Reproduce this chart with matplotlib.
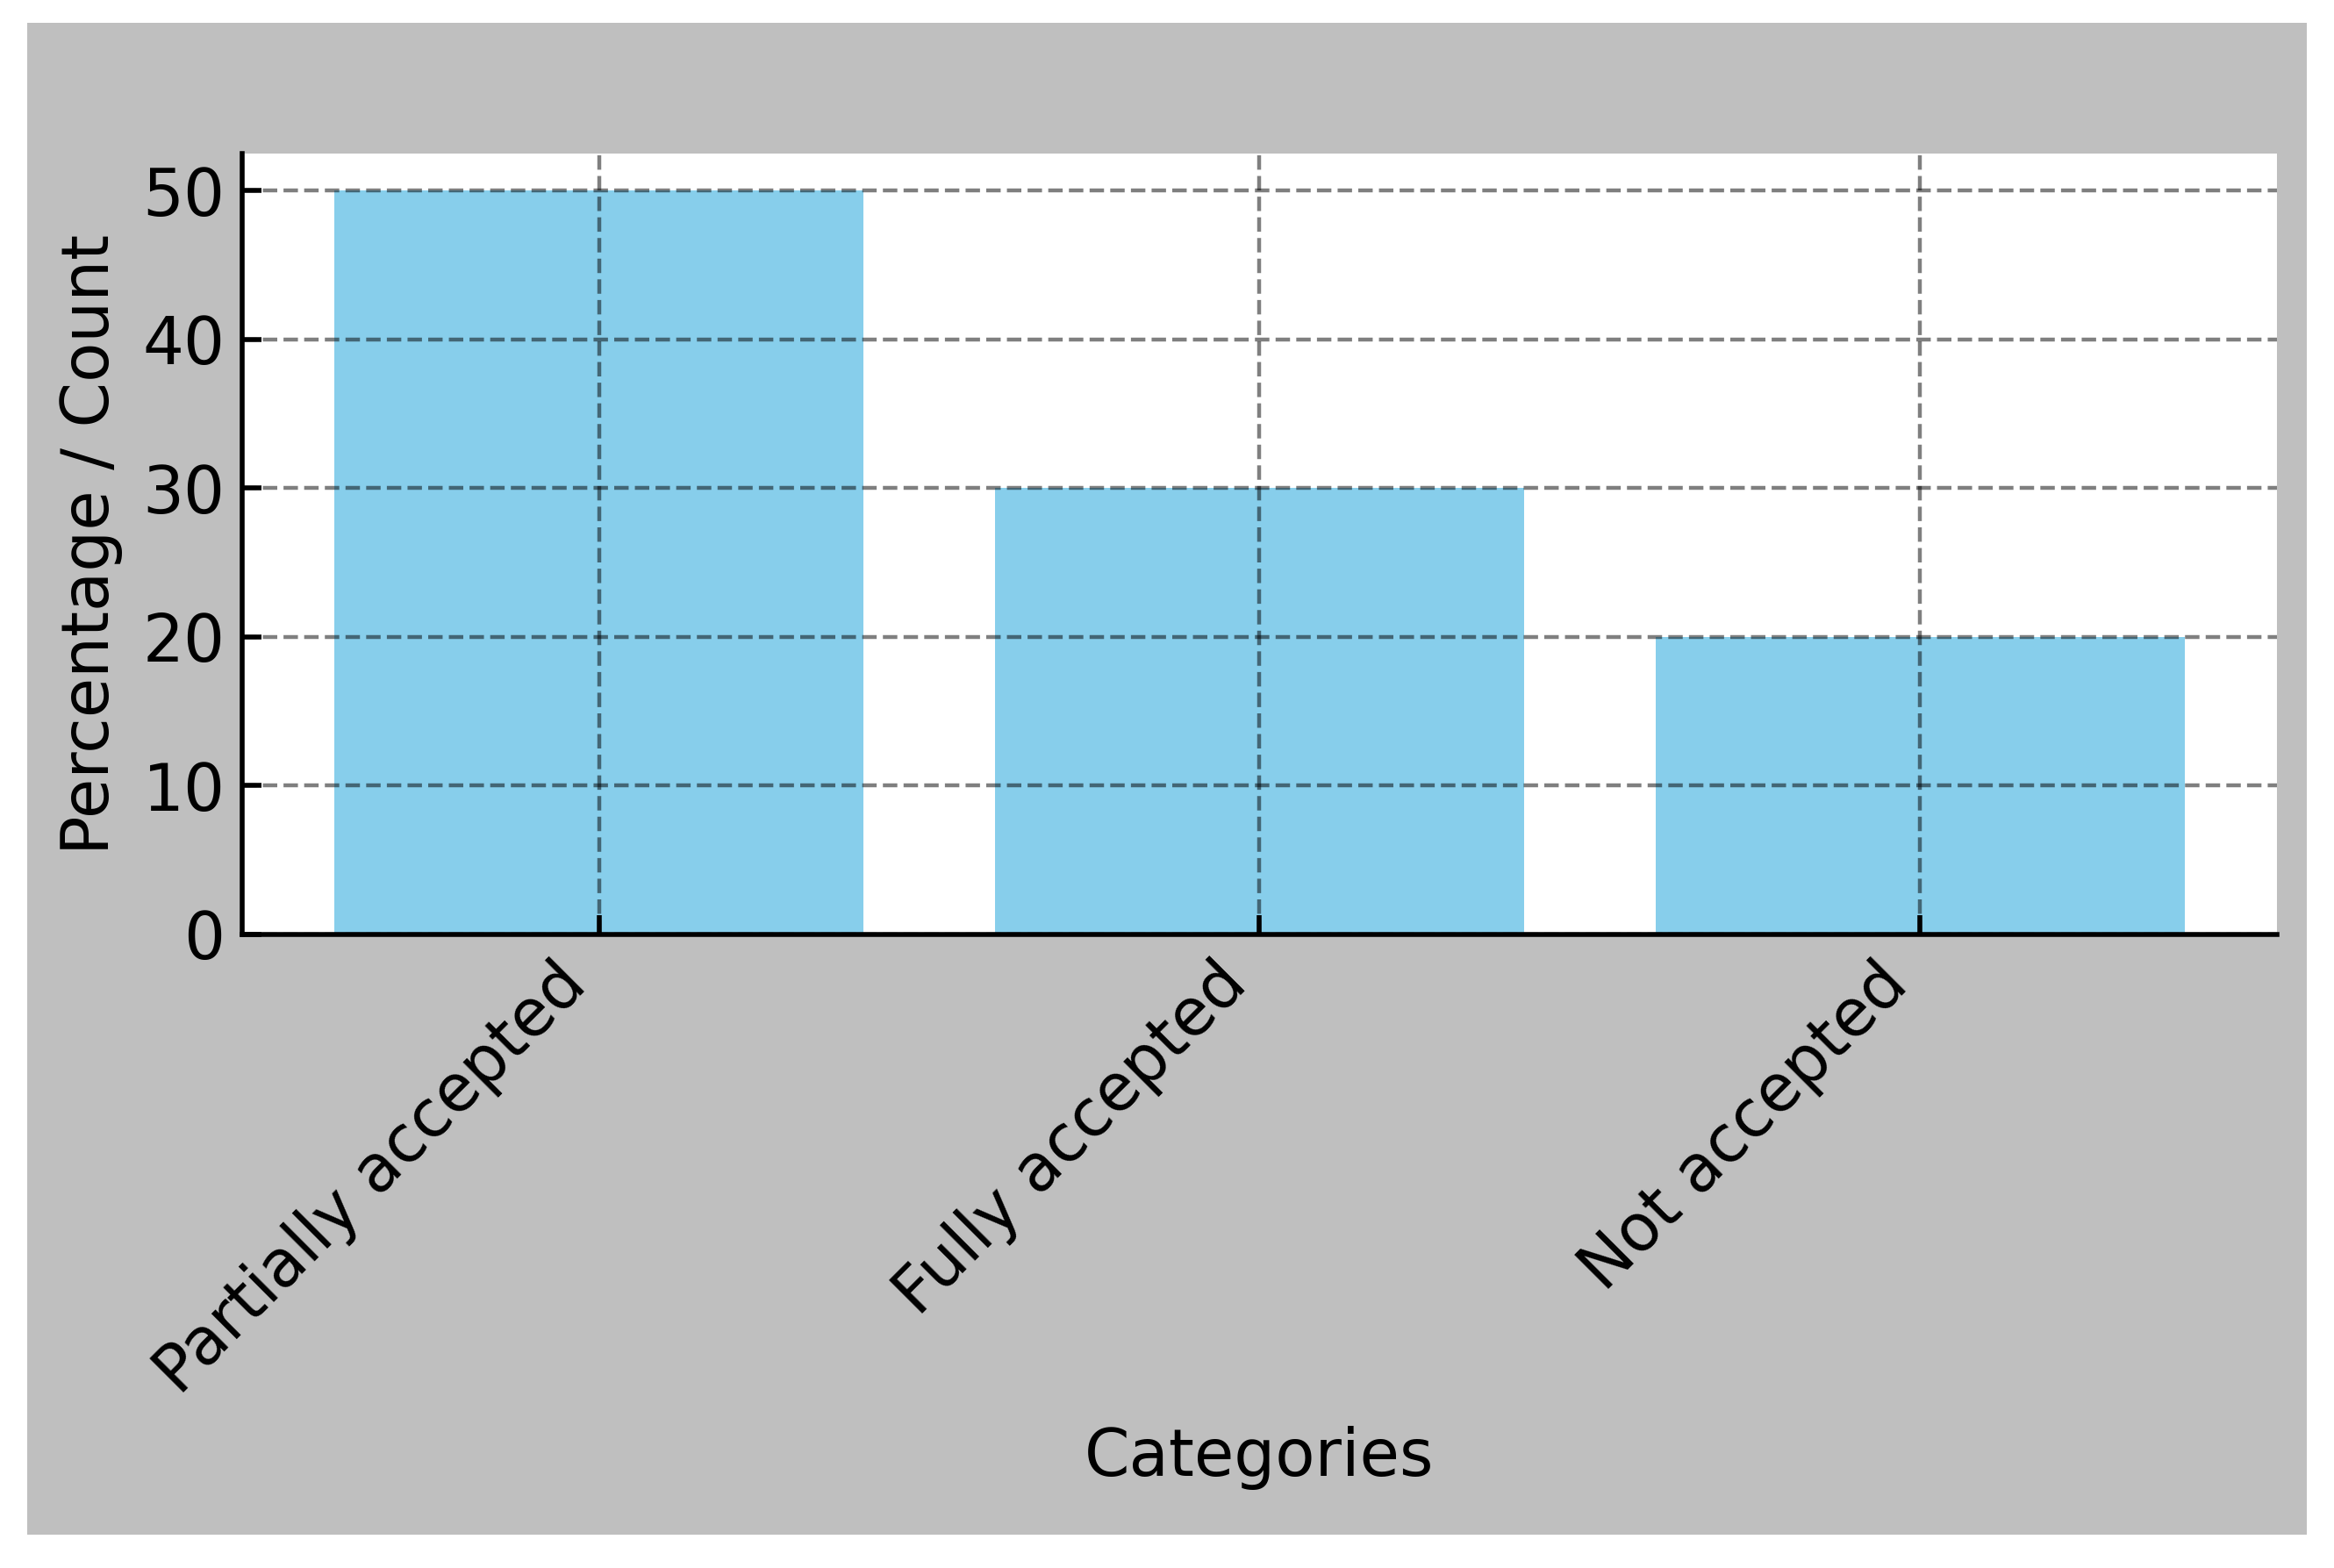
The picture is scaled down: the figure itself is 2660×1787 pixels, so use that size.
import matplotlib
matplotlib.use("Agg")
import matplotlib.pyplot as plt
from matplotlib.patches import Rectangle

categories = ["Partially accepted", "Fully accepted", "Not accepted"]
values = [50, 30, 20]
yticks = [0, 10, 20, 30, 40, 50]

W, H, DPI = 2660, 1787, 400
FS = 13.3
fig = plt.figure(figsize=(W / DPI, H / DPI), dpi=DPI, facecolor="white")
# grey figure panel (inset from white border)
fig.patches.append(Rectangle((31 / W, 1 - 1749 / H), (2629 - 31) / W, (1749 - 26) / H,
                             transform=fig.transFigure, facecolor="#bfbfbf",
                             edgecolor="none", zorder=-10))

ax = fig.add_axes([276 / W, 1 - 1065 / H, (2595 - 276) / W, (1065 - 175) / H])
ax.set_zorder(5)
ax.set_facecolor("white")
ax.bar(categories, values, color="skyblue", width=0.8)
ax.set_yticks(yticks)

ax.grid(True, linestyle="--", color="black", alpha=0.5, linewidth=0.8)
ax.spines["top"].set_visible(False)
ax.spines["right"].set_visible(False)
for s in ("left", "bottom"):
    ax.spines[s].set_linewidth(1.0)
ax.tick_params(direction="in", labelsize=FS, width=1.0, length=4)
plt.setp(ax.get_xticklabels(), rotation=45, ha="right")
ax.set_xlabel("Categories", fontsize=FS)
ax.set_ylabel("Percentage / Count", fontsize=FS)

fig.savefig("out.png", dpi=DPI)
